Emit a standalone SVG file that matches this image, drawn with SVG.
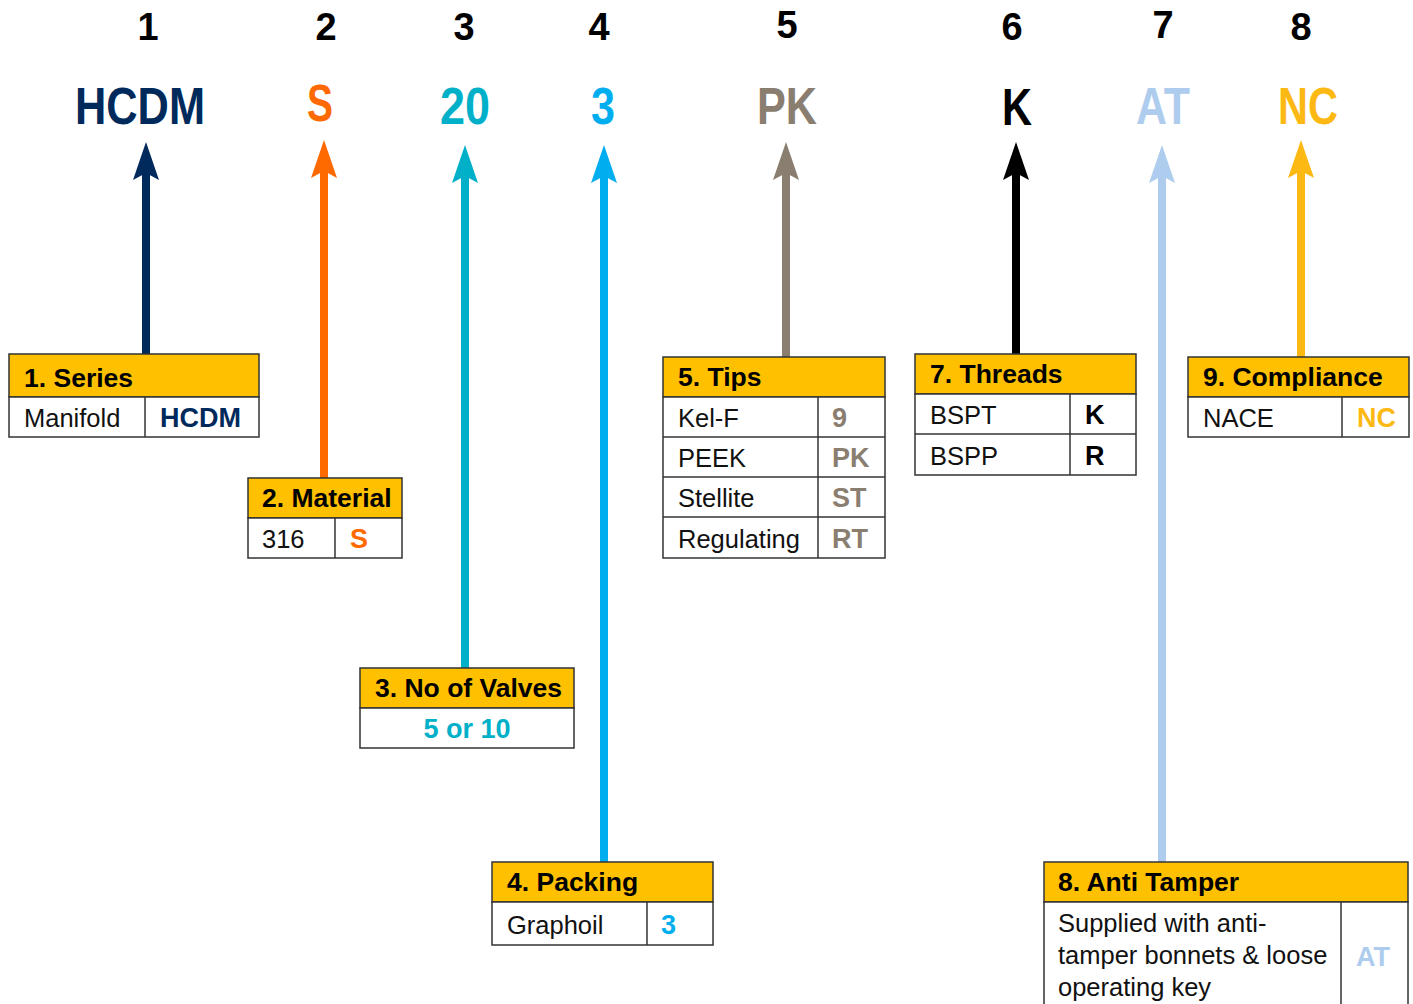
<svg xmlns="http://www.w3.org/2000/svg" width="1413" height="1004" viewBox="0 0 1413 1004">
<style>
.num{font-family:"Liberation Sans Narrow","Liberation Sans",sans-serif;font-weight:bold;font-size:38px;fill:#000;text-anchor:middle}
.code{font-family:"Liberation Sans Narrow","Liberation Sans",sans-serif;font-weight:bold;font-size:51px;text-anchor:middle}
.hd{fill:#ffc000;stroke:#333;stroke-width:1.5}
.cell{fill:#fff;stroke:#333;stroke-width:1.5}
.ln{stroke:#333;stroke-width:1.5}
.ht{font-family:"Liberation Sans",Arial,sans-serif;font-weight:bold;font-size:26.5px;fill:#000}
.bt{font-family:"Liberation Sans",Arial,sans-serif;font-size:25.5px;fill:#111}
.ct{font-family:"Liberation Sans",Arial,sans-serif;font-weight:bold;font-size:27px}
.shaft{stroke-width:8;fill:none}
</style>
<defs>
<marker id="a1" markerUnits="userSpaceOnUse" markerWidth="40" markerHeight="30" viewBox="0 0 40 30" refX="7" refY="15" orient="auto"><path d="M0,2 L38,15 L0,28 L7,15 Z" fill="#002a5c"/></marker>
<marker id="a2" markerUnits="userSpaceOnUse" markerWidth="40" markerHeight="30" viewBox="0 0 40 30" refX="7" refY="15" orient="auto"><path d="M0,2 L38,15 L0,28 L7,15 Z" fill="#ff6a00"/></marker>
<marker id="a3" markerUnits="userSpaceOnUse" markerWidth="40" markerHeight="30" viewBox="0 0 40 30" refX="7" refY="15" orient="auto"><path d="M0,2 L38,15 L0,28 L7,15 Z" fill="#00b0c8"/></marker>
<marker id="a4" markerUnits="userSpaceOnUse" markerWidth="40" markerHeight="30" viewBox="0 0 40 30" refX="7" refY="15" orient="auto"><path d="M0,2 L38,15 L0,28 L7,15 Z" fill="#00aeef"/></marker>
<marker id="a5" markerUnits="userSpaceOnUse" markerWidth="40" markerHeight="30" viewBox="0 0 40 30" refX="7" refY="15" orient="auto"><path d="M0,2 L38,15 L0,28 L7,15 Z" fill="#8a7e70"/></marker>
<marker id="a6" markerUnits="userSpaceOnUse" markerWidth="40" markerHeight="30" viewBox="0 0 40 30" refX="7" refY="15" orient="auto"><path d="M0,2 L38,15 L0,28 L7,15 Z" fill="#000"/></marker>
<marker id="a7" markerUnits="userSpaceOnUse" markerWidth="40" markerHeight="30" viewBox="0 0 40 30" refX="7" refY="15" orient="auto"><path d="M0,2 L38,15 L0,28 L7,15 Z" fill="#aecdee"/></marker>
<marker id="a8" markerUnits="userSpaceOnUse" markerWidth="40" markerHeight="30" viewBox="0 0 40 30" refX="7" refY="15" orient="auto"><path d="M0,2 L38,15 L0,28 L7,15 Z" fill="#fdb913"/></marker>
</defs>
<rect width="1413" height="1004" fill="#fff"/>

<g id="positions">
<text class="num" x="148" y="40">1</text>
<text class="num" x="326" y="40">2</text>
<text class="num" x="464" y="40">3</text>
<text class="num" x="599" y="40">4</text>
<text class="num" x="787" y="38">5</text>
<text class="num" x="1012" y="40">6</text>
<text class="num" x="1163" y="38">7</text>
<text class="num" x="1301" y="40">8</text>
</g>

<g id="codes">
<text class="code" x="140" y="124" fill="#002a5c" textLength="130" lengthAdjust="spacingAndGlyphs">HCDM</text>
<text class="code" x="320" y="121" fill="#ff6a00" textLength="26" lengthAdjust="spacingAndGlyphs">S</text>
<text class="code" x="465" y="124" fill="#00b0c8" textLength="50" lengthAdjust="spacingAndGlyphs">20</text>
<text class="code" x="603" y="124" fill="#00aeef" textLength="24" lengthAdjust="spacingAndGlyphs">3</text>
<text class="code" x="787" y="124" fill="#8a7e70" textLength="60" lengthAdjust="spacingAndGlyphs">PK</text>
<text class="code" x="1017" y="125" fill="#000" textLength="30" lengthAdjust="spacingAndGlyphs">K</text>
<text class="code" x="1163" y="124" fill="#aecdee" textLength="54" lengthAdjust="spacingAndGlyphs">AT</text>
<text class="code" x="1308" y="124" fill="#fdb913" textLength="60" lengthAdjust="spacingAndGlyphs">NC</text>
</g>

<g id="connectors">
<line class="shaft" x1="146" y1="354" x2="146" y2="173" stroke="#002a5c" marker-end="url(#a1)"/>
<line class="shaft" x1="324" y1="478" x2="324" y2="171" stroke="#ff6a00" marker-end="url(#a2)"/>
<line class="shaft" x1="465" y1="668" x2="465" y2="176" stroke="#00b0c8" marker-end="url(#a3)"/>
<line class="shaft" x1="604" y1="862" x2="604" y2="176" stroke="#00aeef" marker-end="url(#a4)"/>
<line class="shaft" x1="786" y1="357" x2="786" y2="173" stroke="#8a7e70" marker-end="url(#a5)"/>
<line class="shaft" x1="1016" y1="354" x2="1016" y2="173" stroke="#000" marker-end="url(#a6)"/>
<line class="shaft" x1="1162" y1="862" x2="1162" y2="176" stroke="#aecdee" marker-end="url(#a7)"/>
<line class="shaft" x1="1301" y1="357" x2="1301" y2="171" stroke="#fdb913" marker-end="url(#a8)"/>
</g>

<g id="box-series">
<rect class="hd" x="9" y="354" width="250" height="43"/>
<rect class="cell" x="9" y="397" width="250" height="40"/>
<line class="ln" x1="145" y1="397" x2="145" y2="437"/>
<text class="ht" x="24" y="387">1. Series</text>
<text class="bt" x="24" y="427">Manifold</text>
<text class="ct" x="160" y="427" fill="#002a5c">HCDM</text>
</g>

<g id="box-material">
<rect class="hd" x="248" y="478" width="154" height="40"/>
<rect class="cell" x="248" y="518" width="154" height="40"/>
<line class="ln" x1="335" y1="518" x2="335" y2="558"/>
<text class="ht" x="262" y="507">2. Material</text>
<text class="bt" x="262" y="548">316</text>
<text class="ct" x="350" y="548" fill="#ff6a00">S</text>
</g>

<g id="box-valves">
<rect class="hd" x="360" y="668" width="214" height="40"/>
<rect class="cell" x="360" y="708" width="214" height="40"/>
<text class="ht" x="375" y="697">3. No of Valves</text>
<text class="ct" x="467" y="738" fill="#00b0c8" text-anchor="middle">5 or 10</text>
</g>

<g id="box-packing">
<rect class="hd" x="492" y="862" width="221" height="40"/>
<rect class="cell" x="492" y="902" width="221" height="43"/>
<line class="ln" x1="647" y1="902" x2="647" y2="945"/>
<text class="ht" x="507" y="891">4. Packing</text>
<text class="bt" x="507" y="934">Graphoil</text>
<text class="ct" x="661" y="934" fill="#00aeef">3</text>
</g>

<g id="box-tips">
<rect class="hd" x="663" y="357" width="222" height="40"/>
<rect class="cell" x="663" y="397" width="222" height="161"/>
<line class="ln" x1="663" y1="437" x2="885" y2="437"/>
<line class="ln" x1="663" y1="477" x2="885" y2="477"/>
<line class="ln" x1="663" y1="517" x2="885" y2="517"/>
<line class="ln" x1="818" y1="397" x2="818" y2="558"/>
<text class="ht" x="678" y="386">5. Tips</text>
<text class="bt" x="678" y="427">Kel-F</text>
<text class="bt" x="678" y="467">PEEK</text>
<text class="bt" x="678" y="507">Stellite</text>
<text class="bt" x="678" y="548">Regulating</text>
<text class="ct" x="832" y="427" fill="#8a7e70">9</text>
<text class="ct" x="832" y="467" fill="#8a7e70">PK</text>
<text class="ct" x="832" y="507" fill="#8a7e70">ST</text>
<text class="ct" x="832" y="548" fill="#8a7e70">RT</text>
</g>

<g id="box-threads">
<rect class="hd" x="915" y="354" width="221" height="40"/>
<rect class="cell" x="915" y="394" width="221" height="81"/>
<line class="ln" x1="915" y1="434" x2="1136" y2="434"/>
<line class="ln" x1="1070" y1="394" x2="1070" y2="475"/>
<text class="ht" x="930" y="383">7. Threads</text>
<text class="bt" x="930" y="424">BSPT</text>
<text class="bt" x="930" y="465">BSPP</text>
<text class="ct" x="1085" y="424" fill="#000">K</text>
<text class="ct" x="1085" y="465" fill="#000">R</text>
</g>

<g id="box-compliance">
<rect class="hd" x="1188" y="357" width="221" height="40"/>
<rect class="cell" x="1188" y="397" width="221" height="40"/>
<line class="ln" x1="1342" y1="397" x2="1342" y2="437"/>
<text class="ht" x="1203" y="386">9. Compliance</text>
<text class="bt" x="1203" y="427">NACE</text>
<text class="ct" x="1357" y="427" fill="#fdb913">NC</text>
</g>

<g id="box-antitamper">
<rect class="hd" x="1044" y="862" width="364" height="40"/>
<rect class="cell" x="1044" y="902" width="364" height="110"/>
<line class="ln" x1="1341" y1="902" x2="1341" y2="1004"/>
<text class="ht" x="1058" y="891">8. Anti Tamper</text>
<text class="bt" x="1058" y="932">Supplied with anti-</text>
<text class="bt" x="1058" y="964">tamper bonnets &amp; loose</text>
<text class="bt" x="1058" y="996">operating key</text>
<text class="ct" x="1356" y="966" fill="#aecdee">AT</text>
</g>
</svg>
